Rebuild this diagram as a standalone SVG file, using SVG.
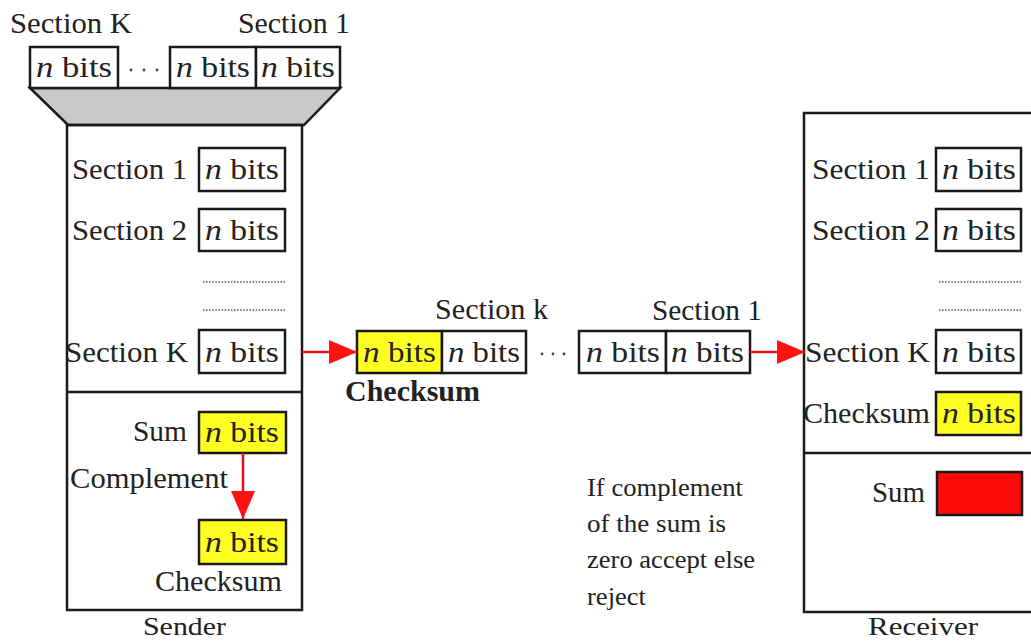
<svg xmlns="http://www.w3.org/2000/svg" width="1031" height="644" viewBox="0 0 1031 644">
<style>
text{font-family:"Liberation Serif","Times New Roman",serif;fill:#222;font-size:29px}
.box{fill:#fff;stroke:#1a1a1a;stroke-width:2.5}
.yb{fill:#ffff22;stroke:#1a1a1a;stroke-width:2.5}
.frame{fill:none;stroke:#1a1a1a;stroke-width:2.5}
.dots{stroke:#555;stroke-width:1.5;stroke-dasharray:1.5 1.6}
.red{stroke:#ee1111;stroke-width:2.5;fill:none}
.note{font-size:25px}
.ell{fill:#444}
.lbl{font-size:26px}
</style>
<defs>
<marker id="ah" markerUnits="userSpaceOnUse" markerWidth="30" markerHeight="28" refX="28" refY="14" orient="auto">
<path d="M0,2 L28,14 L0,26 Z" fill="#ff1111"/>
</marker>
</defs>
<rect width="1031" height="644" fill="#fff"/>

<g id="sender-input">
<text x="10" y="33" textLength="122" lengthAdjust="spacingAndGlyphs">Section K</text>
<text x="238" y="33" textLength="112" lengthAdjust="spacingAndGlyphs">Section 1</text>
<polygon points="30,88 340,88 304,125 68,125" fill="#c8c8c8" stroke="#1a1a1a" stroke-width="2.5"/>
<rect class="box" x="30" y="47" width="88" height="41"/>
<rect class="box" x="170" y="47" width="86" height="41"/>
<rect class="box" x="256" y="47" width="84" height="41"/>
<text x="36" y="77" textLength="76" lengthAdjust="spacingAndGlyphs"><tspan font-style="italic">n</tspan> bits</text>
<circle class="ell" cx="131" cy="70" r="1.4"/><circle class="ell" cx="144" cy="70" r="1.4"/><circle class="ell" cx="157" cy="70" r="1.4"/>
<text x="176" y="77" textLength="74" lengthAdjust="spacingAndGlyphs"><tspan font-style="italic">n</tspan> bits</text>
<text x="261" y="77" textLength="74" lengthAdjust="spacingAndGlyphs"><tspan font-style="italic">n</tspan> bits</text>
</g>

<g id="sender">
<rect class="frame" x="67" y="125" width="235" height="485"/>
<line class="frame" x1="67" y1="392" x2="302" y2="392"/>
<text x="72" y="179" textLength="115" lengthAdjust="spacingAndGlyphs">Section 1</text>
<rect class="box" x="199" y="148" width="86" height="43"/>
<text x="205" y="179" textLength="74" lengthAdjust="spacingAndGlyphs"><tspan font-style="italic">n</tspan> bits</text>
<text x="72" y="240" textLength="115" lengthAdjust="spacingAndGlyphs">Section 2</text>
<rect class="box" x="199" y="209" width="86" height="42"/>
<text x="205" y="240" textLength="74" lengthAdjust="spacingAndGlyphs"><tspan font-style="italic">n</tspan> bits</text>
<line class="dots" x1="203" y1="282" x2="285" y2="282"/>
<line class="dots" x1="203" y1="310" x2="285" y2="310"/>
<text x="65" y="362" textLength="123" lengthAdjust="spacingAndGlyphs">Section K</text>
<rect class="box" x="199" y="330" width="86" height="43"/>
<text x="205" y="362" textLength="74" lengthAdjust="spacingAndGlyphs"><tspan font-style="italic">n</tspan> bits</text>
<text x="133" y="441" textLength="54" lengthAdjust="spacingAndGlyphs">Sum</text>
<rect class="yb" x="199" y="412" width="87" height="41"/>
<text x="205" y="442" textLength="74" lengthAdjust="spacingAndGlyphs"><tspan font-style="italic">n</tspan> bits</text>
<text x="70" y="488" textLength="158" lengthAdjust="spacingAndGlyphs">Complement</text>
<rect class="yb" x="199" y="520" width="87" height="44"/>
<text x="205" y="552" textLength="74" lengthAdjust="spacingAndGlyphs"><tspan font-style="italic">n</tspan> bits</text>
<text x="155" y="591" textLength="127" lengthAdjust="spacingAndGlyphs" font-size="26">Checksum</text>
<text class="lbl" x="143" y="635" textLength="83" lengthAdjust="spacingAndGlyphs">Sender</text>
</g>

<g id="transmitted">
<text x="435" y="319" textLength="113" lengthAdjust="spacingAndGlyphs">Section k</text>
<text x="652" y="320" textLength="110" lengthAdjust="spacingAndGlyphs">Section 1</text>
<rect class="yb" x="357" y="331" width="85" height="42"/>
<rect class="box" x="442" y="331" width="84" height="42"/>
<rect class="box" x="579" y="331" width="87" height="42"/>
<rect class="box" x="666" y="331" width="84" height="42"/>
<text x="363" y="362" textLength="73" lengthAdjust="spacingAndGlyphs"><tspan font-style="italic">n</tspan> bits</text>
<text x="448" y="362" textLength="72" lengthAdjust="spacingAndGlyphs"><tspan font-style="italic">n</tspan> bits</text>
<circle class="ell" cx="542" cy="354" r="1.4"/><circle class="ell" cx="553" cy="354" r="1.4"/><circle class="ell" cx="564" cy="354" r="1.4"/>
<text x="586" y="362" textLength="74" lengthAdjust="spacingAndGlyphs"><tspan font-style="italic">n</tspan> bits</text>
<text x="671" y="362" textLength="73" lengthAdjust="spacingAndGlyphs"><tspan font-style="italic">n</tspan> bits</text>
<text x="345" y="401" textLength="135" lengthAdjust="spacingAndGlyphs" font-weight="bold" font-size="27">Checksum</text>
</g>

<g id="receiver">
<rect class="frame" x="804" y="113" width="240" height="499"/>
<line class="frame" x1="804" y1="453" x2="1040" y2="453"/>
<text x="812" y="179" textLength="118" lengthAdjust="spacingAndGlyphs">Section 1</text>
<rect class="box" x="936" y="148" width="85" height="43"/>
<text x="942" y="179" textLength="74" lengthAdjust="spacingAndGlyphs"><tspan font-style="italic">n</tspan> bits</text>
<text x="812" y="240" textLength="118" lengthAdjust="spacingAndGlyphs">Section 2</text>
<rect class="box" x="936" y="209" width="85" height="42"/>
<text x="942" y="240" textLength="74" lengthAdjust="spacingAndGlyphs"><tspan font-style="italic">n</tspan> bits</text>
<line class="dots" x1="939" y1="282" x2="1021" y2="282"/>
<line class="dots" x1="939" y1="310" x2="1021" y2="310"/>
<text x="805" y="362" textLength="125" lengthAdjust="spacingAndGlyphs">Section K</text>
<rect class="box" x="936" y="330" width="85" height="43"/>
<text x="942" y="362" textLength="74" lengthAdjust="spacingAndGlyphs"><tspan font-style="italic">n</tspan> bits</text>
<text x="803" y="423" textLength="127" lengthAdjust="spacingAndGlyphs">Checksum</text>
<rect class="yb" x="936" y="392" width="85" height="43"/>
<text x="942" y="423" textLength="74" lengthAdjust="spacingAndGlyphs"><tspan font-style="italic">n</tspan> bits</text>
<text x="872" y="502" textLength="53" lengthAdjust="spacingAndGlyphs">Sum</text>
<rect x="937" y="472" width="85" height="43" fill="#ff0a0a" stroke="#1a1a1a" stroke-width="2.5"/>
<text class="lbl" x="868" y="635" textLength="110" lengthAdjust="spacingAndGlyphs">Receiver</text>
</g>

<g id="note">
<text class="note" x="587" y="496" textLength="156" lengthAdjust="spacingAndGlyphs">If complement</text>
<text class="note" x="587" y="532" textLength="139" lengthAdjust="spacingAndGlyphs">of the sum is</text>
<text class="note" x="587" y="568" textLength="168" lengthAdjust="spacingAndGlyphs">zero accept else</text>
<text class="note" x="587" y="605" textLength="59" lengthAdjust="spacingAndGlyphs">reject</text>
</g>

<g id="connectors">
<line class="red" x1="302" y1="352" x2="357" y2="352" marker-end="url(#ah)"/>
<line class="red" x1="750" y1="352" x2="805" y2="352" marker-end="url(#ah)"/>
<line class="red" x1="243" y1="453" x2="243" y2="519" marker-end="url(#ah)"/>
</g>
</svg>
